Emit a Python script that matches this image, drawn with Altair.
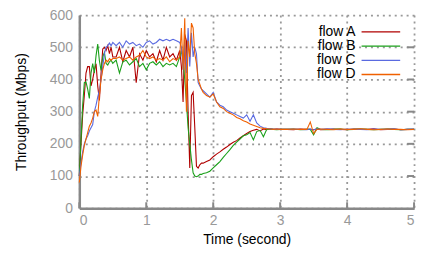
import altair as alt
import pandas as pd

series_names = ["flow A", "flow B", "flow C", "flow D"]
series_colors = ["#b00000", "#1aa01a", "#5a6ae0", "#f06000"]

time_s = [0, .025, .05, .075, .1, .125, .15, .175, .2, .225, .25, .275, .3, .325, .35, .375, .4, .425, .45, .475, .5,
          .55, .6, .65, .7, .75, .8, .85, .9, .95, 1.0, 1.05, 1.1, 1.15, 1.2, 1.25, 1.3, 1.35, 1.4, 1.45,
          1.5, 1.525, 1.55, 1.575, 1.6, 1.625, 1.65, 1.675, 1.7, 1.725, 1.75, 1.775, 1.8, 1.825, 1.85,
          1.9, 1.95, 2.0, 2.05, 2.1, 2.15, 2.2, 2.25, 2.3, 2.35, 2.4, 2.45, 2.5, 2.55, 2.6, 2.65, 2.7, 2.75, 2.8, 2.85, 2.9, 2.95, 3.0,
          3.1, 3.2, 3.3, 3.4, 3.45, 3.5, 3.55, 3.6, 3.7, 3.8, 3.9, 4.0, 4.1, 4.2, 4.3, 4.4, 4.5, 4.6, 4.7, 4.8, 4.9, 5.0]

flow_a = [100, 200, 290, 350, 420, 440, 440, 380, 400, 428, 449, 380, 335, 420, 495, 500, 490, 505, 480, 500, 470,
          470, 500, 455, 490, 470, 500, 390, 480, 460, 490, 470, 480, 455, 490, 460, 500, 470, 480, 460,
          490, 440, 330, 540, 520, 300, 125, 350, 360, 250, 130, 125, 135, 140, 140,
          145, 150, 160, 168, 175, 183, 190, 198, 205, 210, 218, 225, 232, 238, 242, 245, 240, 246, 244, 247, 245, 246, 245,
          245, 244, 246, 245, 245, 244, 247, 244, 245, 246, 245, 244, 246, 245, 245, 247, 244, 245, 246, 244, 245, 245]

flow_b = [100, 210, 320, 390, 392, 370, 341, 420, 449, 420, 474, 510, 458, 428, 470, 484, 450, 445, 455, 460, 450,
          460, 420, 455, 460, 445, 455, 465, 440, 450, 430, 450, 455, 445, 455, 440, 450, 445, 450, 440,
          470, 490, 460, 400, 330, 250, 200, 150, 110, 100, 98, 100, 105, 105, 108,
          110, 115, 125, 135, 145, 158, 170, 182, 195, 205, 215, 225, 228, 235, 212, 238, 242, 222, 245, 246, 245, 244, 245,
          245, 246, 244, 245, 245, 228, 250, 245, 244, 245, 246, 244, 245, 246, 245, 244, 245, 246, 245, 244, 245, 245]

flow_c = [100, 140, 175, 200, 215, 225, 240, 250, 260, 300, 320, 345, 366, 400, 440, 480, 500, 505, 513, 505, 515,
          505, 515, 500, 520, 510, 515, 505, 510, 500, 515, 520, 510, 515, 525, 520, 525, 520, 525, 520,
          515, 500, 430, 520, 420, 560, 440, 545, 470, 500, 480, 390, 380, 370, 365,
          355, 345, 360, 330, 320, 315, 305, 300, 295, 290, 285, 280, 290, 270, 290, 265, 255, 250, 248, 247, 245, 246, 245,
          245, 246, 245, 244, 246, 243, 247, 245, 247, 245, 244, 246, 245, 245, 244, 246, 245, 245, 247, 244, 245, 246]

flow_d = [80, 130, 165, 195, 215, 235, 255, 265, 280, 300, 305, 285, 350, 400, 430, 450, 460, 455, 465, 460, 465,
          465, 470, 460, 465, 470, 460, 470, 475, 490, 470, 465, 470, 460, 465, 460, 470, 455, 465, 460,
          470, 560, 430, 590, 300, 520, 470, 575, 560, 480, 450, 400, 385, 370, 360,
          350, 345, 355, 330, 315, 310, 300, 295, 290, 282, 278, 272, 268, 262, 258, 254, 250, 248, 247, 246, 245, 246, 245,
          245, 246, 245, 245, 268, 232, 245, 246, 245, 244, 246, 245, 245, 247, 245, 244, 245, 246, 245, 245, 244, 245]

y_ticks = [0, 100, 200, 300, 400, 500, 600]
x_ticks = [0, 1, 2, 3, 4, 5]

rows = []
for name, vals in zip(series_names, [flow_a, flow_b, flow_c, flow_d]):
    for t, v in zip(time_s, vals):
        rows.append({"time": t, "value": v, "series": name})
df = pd.DataFrame(rows)
legend_df = pd.DataFrame({"series": series_names})
xtick_df = pd.DataFrame({"tick": x_ticks})
ytick_df = pd.DataFrame({"tick": y_ticks[1:-1]})

color = alt.Color("series:N", scale=alt.Scale(domain=series_names, range=series_colors), legend=None)
x_scale = alt.Scale(domain=[0, 5], nice=False)
y_scale = alt.Scale(domain=[0, 600], nice=False)

lines = alt.Chart(df).mark_line(strokeWidth=1.1).encode(
    x=alt.X("time:Q", scale=x_scale,
            axis=alt.Axis(title="Time (second)", values=x_ticks, format="d", titleY=32, titleBaseline="middle")),
    y=alt.Y("value:Q", scale=y_scale,
            axis=alt.Axis(title="Throughput (Mbps)", values=y_ticks, titleX=-58, titleY=97.5,
                          titleAngle=270, titleBaseline="middle", titleAlign="center")),
    color=color,
    detail="series:N",
)

# inward tick marks (gnuplot style)
xticks_in = alt.Chart(xtick_df).mark_rule(color="#888888", strokeWidth=2).encode(
    x=alt.X("tick:Q", scale=x_scale), y=alt.value(195), y2=alt.value(189))

yticks_right = alt.Chart(ytick_df).mark_rule(color="#888888", strokeWidth=2).encode(
    y=alt.Y("tick:Q", scale=y_scale, axis=None), x=alt.value(338), x2=alt.value(331))

leg_y = alt.Y("series:N", scale=alt.Scale(type="point", domain=series_names, range=[17, 60], padding=0), axis=None)

leg_text = alt.Chart(legend_df).mark_text(align="right", baseline="middle", fontSize=14, color="black",
                                          font="Liberation Sans").encode(
    x=alt.value(279), y=leg_y, text="series:N")

leg_rule = alt.Chart(legend_df).mark_rule(strokeWidth=1.3).encode(
    x=alt.value(285), x2=alt.value(324), y=leg_y, color=color)

chart = alt.layer(lines, xticks_in, yticks_right, leg_text, leg_rule).resolve_scale(y="independent").properties(
    width=338, height=195,
    autosize=alt.AutoSizeParams(type="none"),
    padding={"left": 72, "top": 6, "right": 5, "bottom": 38},
    background="white",
).configure_axis(
    labelFont="Liberation Sans", titleFont="Liberation Sans",
    labelFontSize=14, titleFontSize=14, titleFontWeight="normal",
    labelColor="#999999", titleColor="#000000",
    domainColor="#888888", domainWidth=2.5,
    gridColor="#999999", gridDash=[2, 4], gridWidth=1.8,
    ticks=False,
).configure_axisX(labelPadding=5).configure_axisY(labelPadding=7).configure_view(stroke=None)

chart.save("out.html", embed_options={"renderer": "svg", "actions": False})
